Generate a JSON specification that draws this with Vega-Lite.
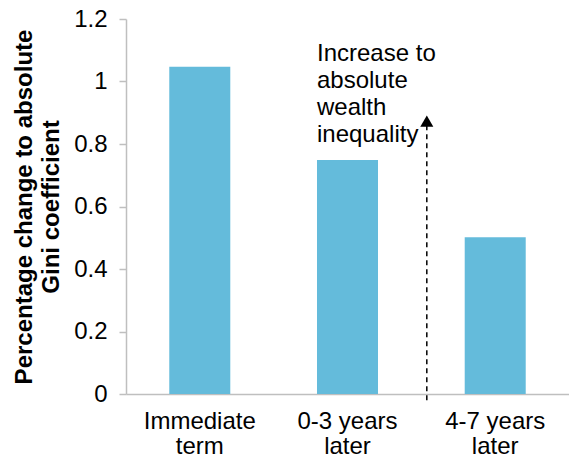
{
  "$schema": "https://vega.github.io/schema/vega-lite/v6.json",
  "width": 443,
  "height": 375,
  "autosize": {"type": "none"},
  "padding": {"left": 126, "top": 19, "right": 0, "bottom": 69},
  "background": "white",
  "config": {"font": "Liberation Sans", "view": {"stroke": null}},
  "datasets": {
    "bars": [
      {"cat": "Immediate term", "value": 1.047},
      {"cat": "0-3 years later", "value": 0.749},
      {"cat": "4-7 years later", "value": 0.502}
    ],
    "note": [
      {"cat": "0-3 years later", "label": "Increase to\nabsolute\nwealth\ninequality", "y": 1.125}
    ],
    "arrow": [
      {"cat": "0-3 years later", "y0": -0.02, "y1": 0.86, "tip": 0.873}
    ]
  },
  "layer": [
    {
      "data": {"name": "bars"},
      "mark": {"type": "bar", "color": "#64BBDB"},
      "encoding": {
        "x": {
          "field": "cat", "type": "nominal", "sort": null,
          "scale": {"paddingInner": 0.587, "paddingOuter": 0.293},
          "axis": {
            "title": null, "labelAngle": 0, "ticks": false,
            "domainColor": "#bfbfbf", "domainWidth": 1.5,
            "labelFontSize": 24, "labelColor": "black", "labelPadding": 15,
            "labelLineHeight": 25, "labelBaseline": "top",
            "labelExpr": "[slice(datum.label,0,lastindexof(datum.label,' ')), slice(datum.label,lastindexof(datum.label,' ')+1)]"
          }
        },
        "y": {
          "field": "value", "type": "quantitative",
          "scale": {"domain": [0, 1.2], "nice": false},
          "axis": {
            "values": [0, 0.2, 0.4, 0.6, 0.8, 1, 1.2],
            "format": "~g", "grid": false,
            "domainColor": "#bfbfbf", "domainWidth": 1.5,
            "tickColor": "#bfbfbf", "tickSize": 7, "tickWidth": 1.5,
            "labelFontSize": 24, "labelColor": "black", "labelPadding": 12,
            "title": ["Percentage change to absolute", "Gini coefficient"],
            "titleFontSize": 24, "titleFontWeight": "bold", "titleColor": "black",
            "titleLineHeight": 27, "titlePadding": 10
          }
        }
      }
    },
    {
      "data": {"name": "note"},
      "mark": {"type": "text", "align": "left", "baseline": "top", "fontSize": 24, "lineBreak": "\n", "lineHeight": 27, "color": "black"},
      "encoding": {
        "x": {"field": "cat", "type": "nominal", "sort": null, "bandPosition": 0},
        "y": {"field": "y", "type": "quantitative"},
        "text": {"field": "label"}
      }
    },
    {
      "data": {"name": "arrow"},
      "mark": {"type": "rule", "color": "black", "strokeWidth": 1.5, "strokeDash": [5, 4]},
      "encoding": {
        "x": {"field": "cat", "type": "nominal", "sort": null, "bandPosition": 1.8},
        "y": {"field": "y0", "type": "quantitative"},
        "y2": {"field": "y1"}
      }
    },
    {
      "data": {"name": "arrow"},
      "mark": {"type": "point", "shape": "triangle-up", "filled": true, "color": "black", "size": 170, "opacity": 1},
      "encoding": {
        "x": {"field": "cat", "type": "nominal", "sort": null, "bandPosition": 1.8},
        "y": {"field": "tip", "type": "quantitative"}
      }
    }
  ]
}
